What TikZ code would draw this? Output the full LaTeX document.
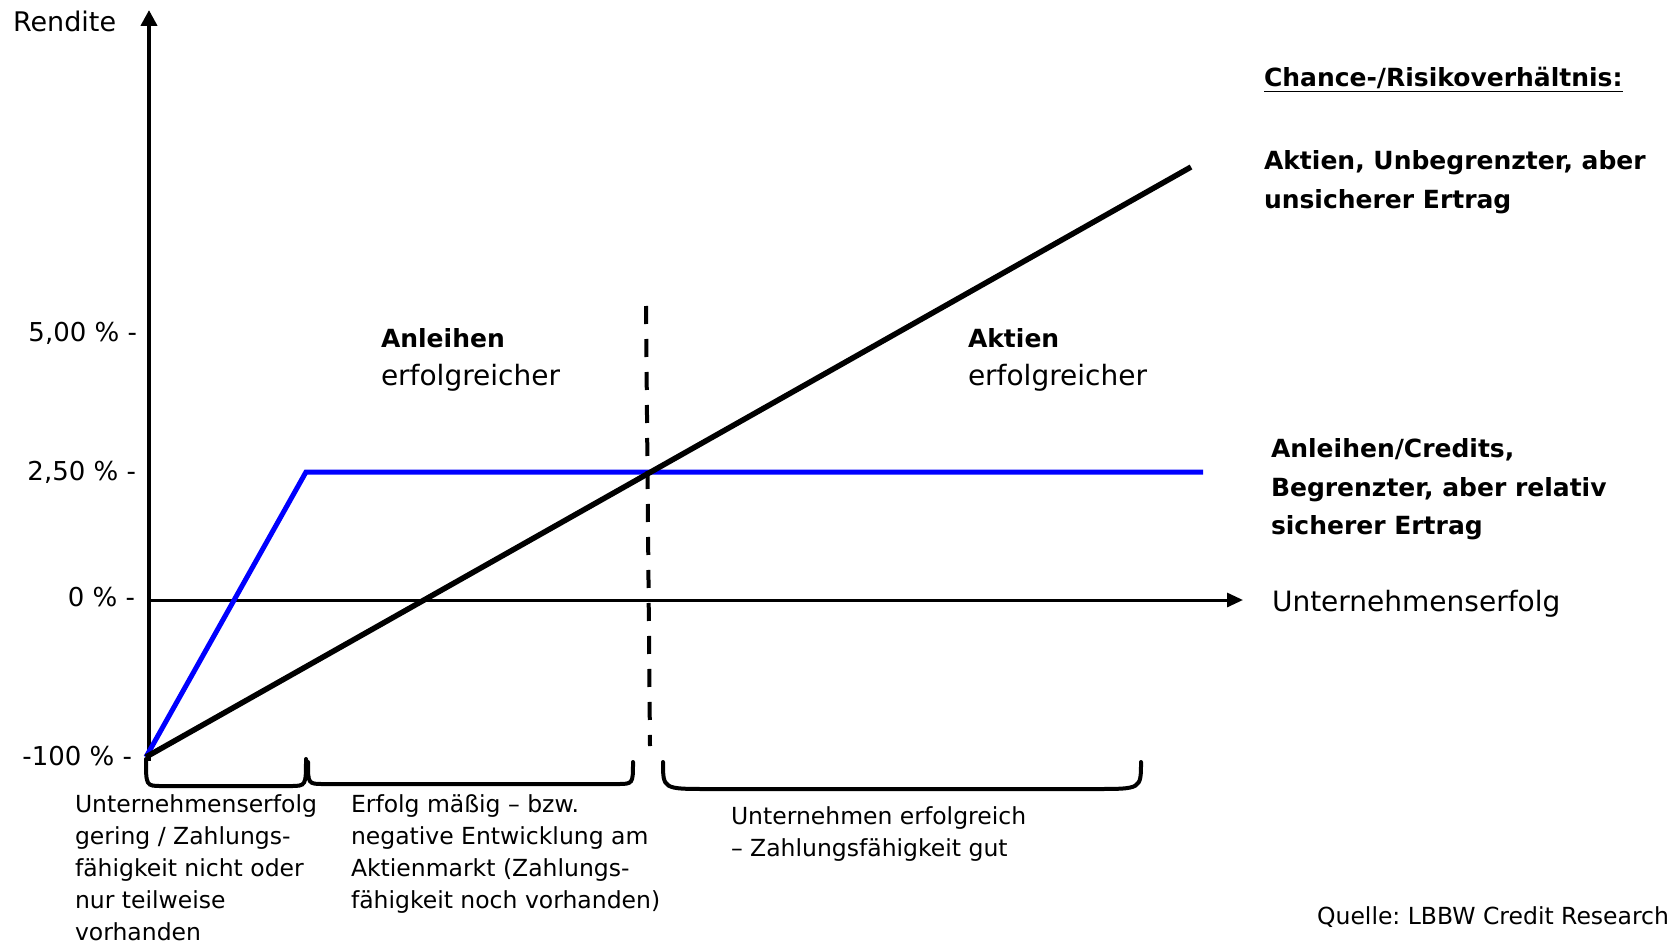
\documentclass[tikz,border=0pt]{standalone}
\usepackage{fontspec}
\setmainfont{DejaVu Sans}
\usetikzlibrary{arrows.meta}
\definecolor{lineblue}{RGB}{0,0,255}
\frenchspacing
\begin{document}
\begin{tikzpicture}[x=1pt,y=-1pt,
  txt/.style={inner sep=0pt, outer sep=0pt},
  ticklbl/.style={txt, anchor=base east, font=\fontsize{26}{30}\selectfont},
  midbold/.style={txt, anchor=base west, font=\bfseries\fontsize{25}{30}\selectfont},
  midreg/.style={txt, anchor=base west, font=\fontsize{28}{32}\selectfont},
  sidebold/.style={txt, anchor=north west, align=left, font=\bfseries\fontsize{25}{38.5}\selectfont},
  bottomtxt/.style={txt, anchor=north west, align=left, font=\fontsize{23.5}{32}\selectfont},
  axis/.style={line width=4pt},
  stockline/.style={line width=5.5pt, black},
  bondline/.style={line width=5pt, lineblue, line join=miter},
  divider/.style={line width=4pt, dash pattern=on 18pt off 15pt},
  bracket/.style={line width=4pt, line cap=round}
]
\useasboundingbox (0,0) rectangle (1672,944);

% key points
\coordinate (ytop) at (149,10);
\coordinate (ybot) at (149,761);
\coordinate (x0) at (149,600);
\coordinate (xend) at (1243,600);
\coordinate (O) at (146,757);
\coordinate (knee) at (306,472);
\coordinate (bend) at (1203,472);
\coordinate (aend) at (1191,167);
\coordinate (dtop) at (646,306);
\coordinate (dbot) at (650,746);

% axes
\draw[axis, -{Triangle[length=16pt,width=16pt]}] (ybot) -- (ytop);
\draw[line width=3pt, -{Triangle[length=16pt,width=14pt]}] (x0) -- (xend);

% lines
\draw[bondline] (O) -- (knee) -- (bend);
\draw[stockline] (O) -- (aend);
\draw[divider] (dtop) -- (dbot);

% brackets
\draw[bracket] (146,759) .. controls (146,786) .. (162,786) -- (290,786) .. controls (306,786) .. (306,759);
\draw[bracket] (308,762) .. controls (308,784) .. (324,784) -- (617,784) .. controls (633,784) .. (633,762);
\draw[bracket] (663,762) .. controls (663,789) .. (708,789) -- (1096,789) .. controls (1141,789) .. (1141,762);

% axis labels
\node[txt, anchor=base west, font=\fontsize{27}{30}\selectfont] (rendite) at (13,32) {Rendite};
\node[txt, anchor=base west, font=\fontsize{28}{32}\selectfont] (uerfolg) at (1272,611) {Unternehmenserfolg};

\node[ticklbl] (t5) at (137,341) {5,00 \% -};
\node[ticklbl] (t25) at (136,480) {2,50 \% -};
\node[ticklbl] (t0) at (135,606) {0 \% -};
\node[ticklbl] (t100) at (132,765) {-100 \% -};

% region labels
\node[midbold] (anl) at (381,347) {Anleihen};
\node[midreg] (anl2) at (381,385) {erfolgreicher};
\node[midbold] (akt) at (968,347) {Aktien};
\node[midreg] (akt2) at (968,385) {erfolgreicher};

% right side
\node[txt, anchor=base west, font=\bfseries\fontsize{25}{30}\selectfont] (chance) at (1264,87) {\underline{Chance-/Risikoverhältnis:}};
\node[sidebold] (aktlbl) at (1264,151) {Aktien, Unbegrenzter, aber\\unsicherer Ertrag};
\node[sidebold] (anllbl) at (1271,439) {Anleihen/Credits,\\Begrenzter, aber relativ\\sicherer Ertrag};

% bottom texts
\node[bottomtxt] (b1) at (75,795) {Unternehmenserfolg\\gering / Zahlungs-\\fähigkeit nicht oder\\nur teilweise\\vorhanden};
\node[bottomtxt] (b2) at (351,795) {Erfolg mäßig – bzw.\\negative Entwicklung am\\Aktienmarkt (Zahlungs-\\fähigkeit noch vorhanden)};
\node[bottomtxt] (b3) at (731,807) {Unternehmen erfolgreich\\– Zahlungsfähigkeit gut};

\node[txt, anchor=base east, font=\fontsize{23.5}{30}\selectfont] (src) at (1669,924) {Quelle: LBBW Credit Research};
\end{tikzpicture}
\end{document}
